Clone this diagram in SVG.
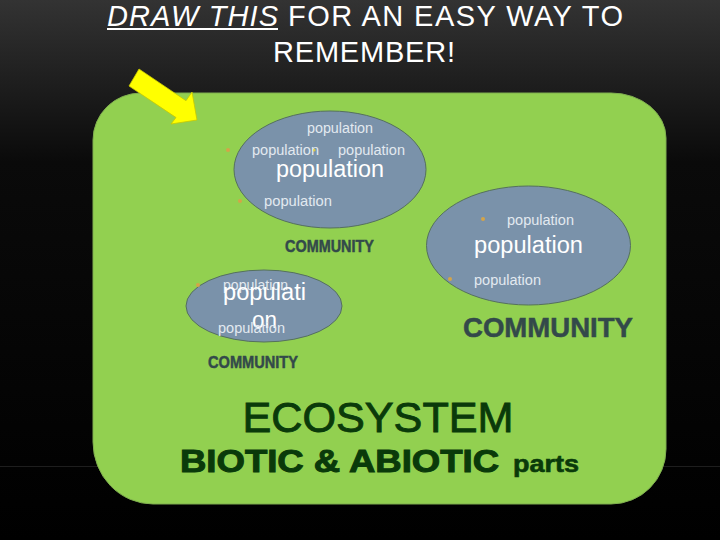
<svg xmlns="http://www.w3.org/2000/svg" width="720" height="540" viewBox="0 0 720 540">
<defs>
<linearGradient id="bg" x1="0" y1="0" x2="0" y2="1">
<stop offset="0" stop-color="#333333"/>
<stop offset="0.3" stop-color="#0a0a0a"/>
<stop offset="1" stop-color="#000000"/>
</linearGradient>
</defs>
<style>
.title{font-family:"Liberation Sans",Arial,sans-serif;font-size:29px;fill:#ffffff}
.ell{fill:#7a92aa;stroke:#55705e;stroke-width:1}
.pop{font-family:"Liberation Sans",Arial,sans-serif;font-size:14px;fill:#e2e9f0}
.popbig{font-family:"Liberation Sans",Arial,sans-serif;font-size:23px;fill:#ffffff}
.dot{fill:#d4a448}
.comm{font-family:"Liberation Sans",Arial,sans-serif;font-weight:bold;fill:#33494a;stroke:#33494a;stroke-width:0.5}
.eco{font-family:"Liberation Sans",Arial,sans-serif;fill:#0a3a0a;stroke:#0a3a0a}
</style>
<rect x="0" y="0" width="720" height="540" fill="url(#bg)"/>
<line x1="0" y1="466.5" x2="720" y2="466.5" stroke="#1e1e1e" stroke-width="1"/>

<g id="title">
<text class="title" x="107" y="26" font-style="italic" textLength="171" lengthAdjust="spacing">DRAW THIS</text>
<text class="title" x="288" y="26" textLength="335" lengthAdjust="spacing">FOR AN EASY WAY TO</text>
<line x1="107" y1="29" x2="278" y2="29" stroke="#ffffff" stroke-width="2"/>
<text class="title" x="364" y="62" text-anchor="middle" textLength="182" lengthAdjust="spacing">REMEMBER!</text>
</g>

<g id="ecosystem">
<path d="M141,93 H611 A55,45 0 0 1 666,138 V449 A55,55 0 0 1 611,504 H153 A60,62 0 0 1 93,442 V140 A48,47 0 0 1 141,93 Z" fill="#92d050" stroke="#7fae4f" stroke-width="1"/>
<text class="eco" x="242.5" y="432" font-size="43" stroke-width="0.9" textLength="271" lengthAdjust="spacingAndGlyphs">ECOSYSTEM</text>
<text class="eco" x="180" y="472" font-size="31" font-weight="bold" stroke-width="1" textLength="319" lengthAdjust="spacingAndGlyphs">BIOTIC &amp; ABIOTIC</text>
<text class="eco" x="513" y="472" font-size="24" font-weight="bold" stroke-width="0.6" textLength="66" lengthAdjust="spacingAndGlyphs">parts</text>
</g>

<g id="arrow">
<polygon points="139,69 186,100.7 192,92 197,120 171,124 176,117.5 129,86" fill="#ffff00" stroke="#c8c800" stroke-width="0.8"/>
</g>

<g id="community1">
<ellipse class="ell" cx="330" cy="169.5" rx="96" ry="58.5"/>
<circle class="dot" cx="228" cy="150" r="2"/>
<circle class="dot" cx="240" cy="201" r="2"/>
<circle cx="314" cy="150" r="1.6" fill="#d8c84a"/>
<text class="pop" x="307" y="133" textLength="66" lengthAdjust="spacingAndGlyphs">population</text>
<text class="pop" x="252" y="155" textLength="67" lengthAdjust="spacingAndGlyphs">population</text>
<text class="pop" x="338" y="155" textLength="67" lengthAdjust="spacingAndGlyphs">population</text>
<text class="popbig" x="276" y="177" textLength="108" lengthAdjust="spacingAndGlyphs">population</text>
<text class="pop" x="264" y="206" textLength="68" lengthAdjust="spacingAndGlyphs">population</text>
<text class="comm" x="285" y="252" font-size="17" textLength="89" lengthAdjust="spacingAndGlyphs">COMMUNITY</text>
</g>

<g id="community2">
<ellipse class="ell" cx="528.5" cy="245.5" rx="102" ry="59.5"/>
<circle class="dot" cx="483" cy="219" r="2"/>
<circle class="dot" cx="450" cy="279" r="2"/>
<text class="pop" x="507" y="225" textLength="67" lengthAdjust="spacingAndGlyphs">population</text>
<text class="popbig" x="474" y="253" textLength="109" lengthAdjust="spacingAndGlyphs">population</text>
<text class="pop" x="474" y="285" textLength="67" lengthAdjust="spacingAndGlyphs">population</text>
<text class="comm" x="463" y="336.5" font-size="27" stroke-width="0.8" textLength="170" lengthAdjust="spacingAndGlyphs">COMMUNITY</text>
</g>

<g id="community3">
<ellipse class="ell" cx="264" cy="306" rx="78" ry="36"/>
<circle class="dot" cx="198" cy="285" r="2"/>
<text class="pop" x="223" y="290" textLength="65" lengthAdjust="spacingAndGlyphs">population</text>
<text class="popbig" x="223" y="300" textLength="83" lengthAdjust="spacingAndGlyphs">populati</text>
<text class="popbig" x="252" y="328" textLength="25" lengthAdjust="spacingAndGlyphs">on</text>
<text class="pop" x="218" y="333" textLength="67" lengthAdjust="spacingAndGlyphs">population</text>
<text class="comm" x="208" y="368" font-size="17" textLength="90" lengthAdjust="spacingAndGlyphs">COMMUNITY</text>
</g>
</svg>
